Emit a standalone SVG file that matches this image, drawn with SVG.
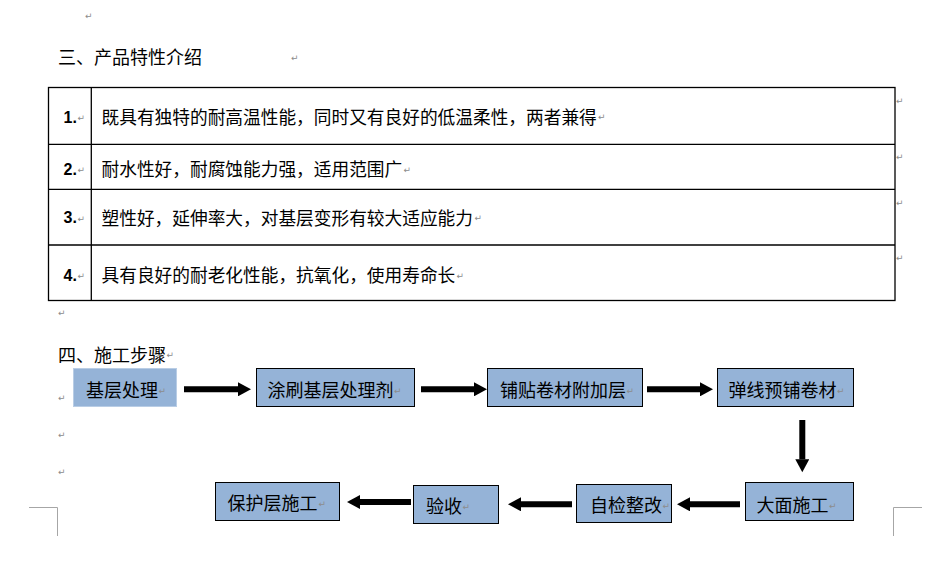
<svg xmlns="http://www.w3.org/2000/svg" width="950" height="564" viewBox="0 0 950 564">
<style>
  .h { font-family: "Noto Sans CJK SC", "Noto Sans", sans-serif; font-size: 18px; fill: #000; dominant-baseline: central; }
  .row { font-family: "Noto Sans CJK SC", "Noto Sans", sans-serif; font-size: 17.7px; fill: #000; dominant-baseline: central; }
  .num { font-family: "Liberation Sans", Arial, sans-serif; font-size: 16px; font-weight: bold; fill: #000; }
  .pm { font-family: "DejaVu Sans", sans-serif; font-size: 9px; fill: #8c8c8c; dominant-baseline: central; }
  .tbl { fill: none; stroke: #000; stroke-width: 1.3; }
  .box { fill: #95B3D7; stroke: #000; stroke-width: 1; }
  .box0 { fill: #95B3D7; stroke: #B9CDE5; stroke-width: 1; }
  .lbl { font-family: "Noto Sans CJK SC", "Noto Sans", sans-serif; font-size: 18px; fill: #000; dominant-baseline: central; }
  .arr { stroke: #000; stroke-width: 6; fill: none; marker-end: url(#head); }
  .crop { fill: none; stroke: #A6A6A6; stroke-width: 1; }
</style>
<defs>
  <marker id="head" markerUnits="userSpaceOnUse" markerWidth="14" markerHeight="14" refX="0" refY="7" orient="auto">
    <path d="M0,0 L13,7 L0,14 Z" fill="#000"/>
  </marker>
</defs>
<rect width="950" height="564" fill="#fff"/>

<!-- paragraph marks -->
<g id="marks">
  <text class="pm" x="85" y="16">↵</text>
  <text class="pm" x="291" y="58">↵</text>
  <text class="pm" x="896" y="101">↵</text>
  <text class="pm" x="896" y="157">↵</text>
  <text class="pm" x="896" y="203">↵</text>
  <text class="pm" x="896" y="258">↵</text>
  <text class="pm" x="58" y="313">↵</text>
  <text class="pm" x="58" y="398">↵</text>
  <text class="pm" x="58" y="435">↵</text>
  <text class="pm" x="58" y="472">↵</text>
</g>

<!-- section 3 heading -->
<g id="heading3">
  <text class="h" x="58" y="56">三、产品特性介绍</text>
</g>

<!-- table -->
<g id="table">
  <rect class="tbl" x="48.5" y="87.5" width="846.5" height="213"/>
  <line class="tbl" x1="91.3" y1="87.5" x2="91.3" y2="300.5"/>
  <line class="tbl" x1="48.5" y1="144.3" x2="895" y2="144.3"/>
  <line class="tbl" x1="48.5" y1="189.3" x2="895" y2="189.3"/>
  <line class="tbl" x1="48.5" y1="245" x2="895" y2="245"/>
  <text class="num" x="63.5" y="122.5">1.</text><text class="pm" x="77.5" y="118">↵</text>
  <text class="row" x="101.5" y="116">既具有独特的耐高温性能，同时又有良好的低温柔性，两者兼得</text><text class="pm" x="598" y="117">↵</text>
  <text class="num" x="63.5" y="174.8">2.</text><text class="pm" x="77.5" y="170">↵</text>
  <text class="row" x="101.5" y="168">耐水性好，耐腐蚀能力强，适用范围广</text><text class="pm" x="403.5" y="170">↵</text>
  <text class="num" x="63.5" y="223.2">3.</text><text class="pm" x="77.5" y="219">↵</text>
  <text class="row" x="101.5" y="216.5">塑性好，延伸率大，对基层变形有较大适应能力</text><text class="pm" x="474.5" y="218">↵</text>
  <text class="num" x="63.5" y="280.8">4.</text><text class="pm" x="77.5" y="276">↵</text>
  <text class="row" x="101.5" y="274">具有良好的耐老化性能，抗氧化，使用寿命长</text><text class="pm" x="456.5" y="276">↵</text>
</g>

<!-- section 4 heading -->
<g id="heading4">
  <text class="h" x="58" y="354">四、施工步骤</text><text class="pm" x="166.5" y="355">↵</text>
</g>

<!-- connectors -->
<g id="connectors">
  <line class="arr" x1="184" y1="389.3" x2="238" y2="389.3"/>
  <line class="arr" x1="421" y1="389.3" x2="474" y2="389.3"/>
  <line class="arr" x1="647" y1="389.3" x2="700" y2="389.3"/>
  <line class="arr" x1="802.3" y1="420" x2="802.3" y2="459.3"/>
  <line class="arr" x1="740" y1="504.3" x2="690" y2="504.3"/>
  <line class="arr" x1="572" y1="504.3" x2="521" y2="504.3"/>
  <line class="arr" x1="411" y1="502" x2="360" y2="502"/>
</g>

<!-- nodes -->
<g id="n1">
  <rect class="box0" x="73.5" y="368.5" width="103" height="38"/>
  <text class="lbl" x="86" y="389">基层处理</text><text class="pm" x="158.5" y="391">↵</text>
</g>
<g id="n2">
  <rect class="box" x="256.5" y="368.5" width="158" height="38"/>
  <text class="lbl" x="267.5" y="389">涂刷基层处理剂</text><text class="pm" x="394" y="391">↵</text>
</g>
<g id="n3">
  <rect class="box" x="487.5" y="368.5" width="155" height="38"/>
  <text class="lbl" x="500" y="389">铺贴卷材附加层</text><text class="pm" x="626.5" y="391">↵</text>
</g>
<g id="n4">
  <rect class="box" x="717.5" y="368.5" width="136" height="38"/>
  <text class="lbl" x="728.5" y="389">弹线预铺卷材</text><text class="pm" x="837" y="391">↵</text>
</g>
<g id="n5">
  <rect class="box" x="745.5" y="482.5" width="108" height="38"/>
  <text class="lbl" x="756.5" y="503.5">大面施工</text><text class="pm" x="829" y="506">↵</text>
</g>
<g id="n6">
  <rect class="box" x="576.5" y="484.5" width="95" height="38"/>
  <text class="lbl" x="590" y="504">自检整改</text><text class="pm" x="662.5" y="506">↵</text>
</g>
<g id="n7">
  <rect class="box" x="413.5" y="485.5" width="85" height="38"/>
  <text class="lbl" x="426" y="505">验收</text><text class="pm" x="462.5" y="507">↵</text>
</g>
<g id="n8">
  <rect class="box" x="215.5" y="482.5" width="124" height="38"/>
  <text class="lbl" x="227.5" y="502">保护层施工</text><text class="pm" x="318.5" y="504">↵</text>
</g>

<!-- crop marks -->
<g id="cropmarks">
  <polyline class="crop" points="29,507.5 57.5,507.5 57.5,536"/>
  <polyline class="crop" points="922,507.5 893.5,507.5 893.5,536"/>
</g>
</svg>
